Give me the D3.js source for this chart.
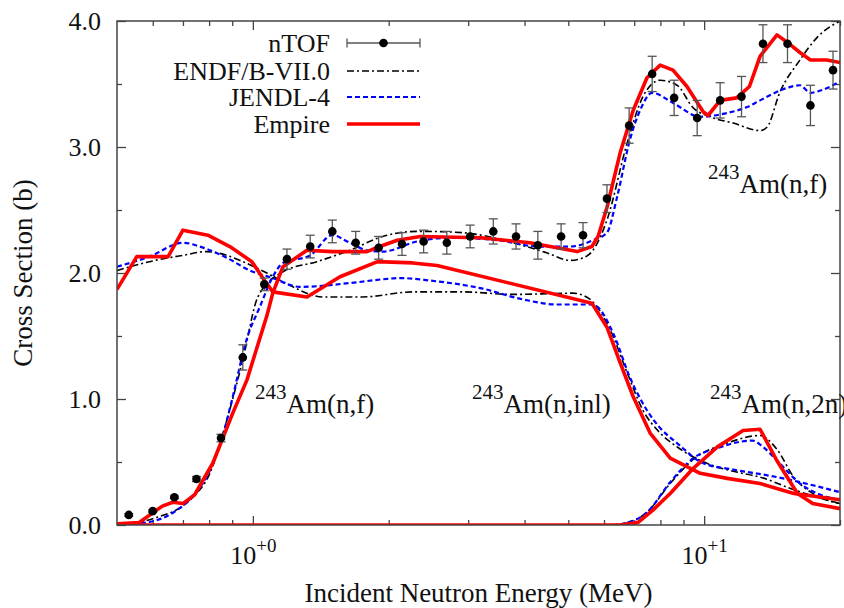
<!DOCTYPE html>
<html>
<head>
<meta charset="utf-8">
<script src="https://cdn.jsdelivr.net/npm/d3@7"></script>
<style>
  html, body { margin: 0; padding: 0; background: #fff; }
  svg { display: block; }
</style>
</head>
<body>
<div id="chartDiv"></div>
<script>
// nTOF measured points (MeV, barn, +/- barn)
const tofE   = [0.531, 0.60, 0.67, 0.75, 0.85, 0.95, 1.06, 1.19, 1.34, 1.50, 1.69, 1.90, 2.14, 2.39, 2.69, 3.03, 3.41, 3.83, 4.28, 4.82, 5.39, 6.09, 6.82, 7.67, 8.58, 9.65, 10.85, 12.1, 13.5, 15.3, 17.2, 19.3];
const tofXs  = [0.08, 0.11, 0.22, 0.365, 0.69, 1.33, 1.91, 2.11, 2.21, 2.33, 2.24, 2.20, 2.23, 2.25, 2.24, 2.29, 2.33, 2.29, 2.22, 2.29, 2.30, 2.59, 3.17, 3.58, 3.39, 3.23, 3.37, 3.40, 3.82, 3.82, 3.33, 3.61];
const tofErr = [0.01, 0.01, 0.01, 0.02, 0.03, 0.1, 0.05, 0.08, 0.09, 0.09, 0.09, 0.09, 0.09, 0.09, 0.09, 0.09, 0.10, 0.10, 0.11, 0.10, 0.10, 0.11, 0.14, 0.14, 0.14, 0.14, 0.14, 0.16, 0.15, 0.15, 0.16, 0.15];

// ENDF/B-VII.0
const endfFisE = [0.5, 0.6, 0.725, 0.803, 0.88, 0.95, 1.026, 1.166, 1.386, 1.64, 1.94, 2.31, 2.43, 2.92, 3.77, 4.48, 5.04, 5.39, 5.67, 6.09, 6.75, 7.32, 7.99, 8.71, 9.46, 10.3, 11.6, 13.3, 13.8, 14.7, 16.3, 17.8, 20];
const endfFis  = [0.0, 0.05, 0.2, 0.41, 0.86, 1.31, 1.81, 2.01, 2.09, 2.18, 2.29, 2.33, 2.33, 2.32, 2.24, 2.16, 2.10, 2.12, 2.18, 2.42, 3.03, 3.40, 3.53, 3.49, 3.31, 3.24, 3.19, 3.13, 3.16, 3.43, 3.69, 3.87, 4.0];
const endfInlE = [0.5, 0.59, 0.70, 0.79, 0.876, 0.95, 1.074, 1.21, 1.43, 1.75, 2.26, 2.92, 3.77, 5.12, 5.59, 5.67, 6.19, 6.75, 7.32, 7.99, 8.71, 10.3, 11.8, 13.3, 15.8, 20];
const endfInl  = [2.02, 2.09, 2.14, 2.17, 2.14, 2.09, 2.0, 1.90, 1.81, 1.81, 1.85, 1.85, 1.83, 1.84, 1.79, 1.77, 1.55, 1.21, 0.91, 0.73, 0.62, 0.48, 0.42, 0.38, 0.28, 0.17];
const endfN2nE = [0.5, 6.3, 6.6, 7.47, 8.41, 9.46, 11.25, 13.3, 14.5, 15.8, 17.4, 20];
const endfN2n  = [0, 0, 0.01, 0.10, 0.33, 0.52, 0.65, 0.71, 0.60, 0.38, 0.25, 0.17];

// JENDL-4
const jendlFisE = [0.5, 0.6, 0.68, 0.75, 0.8, 0.85, 0.9, 0.97, 1.036, 1.107, 1.166, 1.34, 1.50, 1.64, 1.79, 1.94, 2.31, 2.73, 3.48, 4.33, 5.04, 5.67, 6.09, 6.41, 6.85, 7.21, 7.67, 8.53, 9.80, 11.25, 12.5, 13.3, 15.3, 16.3, 17.2, 17.8, 20];
const jendlFis  = [0.0, 0.03, 0.12, 0.26, 0.42, 0.66, 1.0, 1.48, 1.73, 1.97, 2.08, 2.14, 2.30, 2.24, 2.18, 2.17, 2.25, 2.28, 2.26, 2.21, 2.21, 2.26, 2.32, 2.60, 3.06, 3.29, 3.43, 3.35, 3.24, 3.27, 3.32, 3.37, 3.47, 3.49, 3.43, 3.44, 3.52];
const jendlInlE = [0.5, 0.59, 0.70, 0.763, 0.876, 0.985, 1.107, 1.27, 1.64, 1.94, 2.12, 2.47, 3.19, 3.97, 4.72, 5.59, 5.8, 6.29, 6.85, 7.47, 7.99, 8.71, 9.95, 11.6, 14.5, 17.2, 20];
const jendlInl  = [2.05, 2.13, 2.24, 2.21, 2.12, 2.02, 1.96, 1.89, 1.92, 1.95, 1.96, 1.94, 1.88, 1.79, 1.75, 1.75, 1.73, 1.52, 1.17, 0.91, 0.77, 0.65, 0.49, 0.44, 0.38, 0.32, 0.26];
const jendlN2nE = [0.5, 6.3, 6.6, 7.47, 8.41, 9.46, 10.7, 12.0, 12.8, 13.5, 14.7, 16.3, 18.1, 20];
const jendlN2n  = [0, 0, 0.01, 0.10, 0.34, 0.53, 0.61, 0.66, 0.67, 0.62, 0.49, 0.33, 0.24, 0.20];

// Empire
const empFisE = [0.5, 0.56, 0.63, 0.665, 0.70, 0.743, 0.815, 0.903, 0.97, 1.074, 1.107, 1.166, 1.318, 1.5, 1.79, 1.91, 2.09, 2.35, 3.19, 4.11, 5.23, 5.64, 5.82, 6.09, 6.51, 6.96, 7.47, 7.99, 8.53, 9.16, 9.95, 10.2, 10.85, 11.8, 12.6, 13.3, 14.5, 15.3, 16.3, 17.2, 18.7, 20];
const empFis  = [0.01, 0.02, 0.15, 0.18, 0.17, 0.24, 0.49, 0.89, 1.15, 1.66, 1.84, 2.05, 2.18, 2.17, 2.17, 2.21, 2.26, 2.29, 2.28, 2.24, 2.17, 2.21, 2.29, 2.52, 2.95, 3.29, 3.55, 3.65, 3.61, 3.48, 3.28, 3.25, 3.37, 3.39, 3.48, 3.72, 3.89, 3.83, 3.75, 3.69, 3.69, 3.67];
const empInlE = [0.5, 0.553, 0.649, 0.70, 0.795, 0.889, 0.995, 1.052, 1.107, 1.318, 1.56, 1.89, 2.26, 2.56, 5.64, 6.09, 6.51, 6.96, 7.59, 8.41, 9.80, 11.25, 13.3, 15.8, 20];
const empInl  = [1.87, 2.13, 2.13, 2.34, 2.30, 2.21, 2.09, 1.96, 1.85, 1.81, 1.97, 2.09, 2.08, 2.06, 1.76, 1.57, 1.29, 1.02, 0.73, 0.53, 0.41, 0.37, 0.33, 0.25, 0.20];
const empN2nE = [0.5, 6.5, 7.14, 7.71, 8.41, 9.46, 10.7, 12.2, 13.3, 14.5, 16.1, 17.4, 20];
const empN2n  = [0, 0, 0.02, 0.12, 0.25, 0.45, 0.62, 0.75, 0.76, 0.51, 0.25, 0.17, 0.13];

const yMajor = [0, 1, 2, 3, 4];
const yMinor = [0.5, 1.5, 2.5, 3.5];
const xMajor = [1, 10];
const xMinor = [0.6, 0.7, 0.8, 0.9, 2, 3, 4, 5, 6, 7, 8, 9, 20];
const xMajorLabels = ['+0', '+1'];
const legendNames = ['nTOF', 'ENDF/B-VII.0', 'JENDL-4', 'Empire'];

const W = 844, H = 608;
const m = { top: 21, right: 4, bottom: 83, left: 117 };
const w = W - m.left - m.right, h = H - m.top - m.bottom;
const FONT = 26;
const SERIF = '"Liberation Serif", "Times New Roman", serif';

const styles = {
    endf:  { stroke: '#000000', width: 1.6, dash: '7,3,2,3', curve: d3.curveMonotoneX },
    jendl: { stroke: '#0000ff', width: 2.2, dash: '5,3', curve: d3.curveMonotoneX },
    emp:   { stroke: '#ff0000', width: 3.6, dash: null, curve: d3.curveLinear }
};

const zip = (xs, ys) => xs.map((e, i) => ({ e: e, v: ys[i] }));

const svg = d3.select('#chartDiv').append('svg').attr('width', W).attr('height', H);
svg.append('defs').append('clipPath').attr('id', 'plotClip')
    .append('rect').attr('width', w).attr('height', h);

const g = svg.append('g').attr('transform', `translate(${m.left},${m.top})`);

const x = d3.scaleLog().domain([0.5, 20]).range([0, w]);
const y = d3.scaleLinear().domain([0, 4]).range([h, 0]);

// ticks, inward on all four sides
const tickStroke = '#444';
function addAxis(axis, tx, ty) {
    const a = g.append('g').attr('transform', `translate(${tx},${ty})`).call(axis);
    a.select('.domain').remove();
    a.selectAll('line').attr('stroke', tickStroke).attr('stroke-width', 1.3);
    return a;
}
const xb = addAxis(d3.axisBottom(x).tickValues(xMajor).tickSize(-9).tickPadding(22).tickFormat(() => ''), 0, h);
addAxis(d3.axisBottom(x).tickValues(xMinor).tickSize(-5).tickFormat(''), 0, h);
addAxis(d3.axisTop(x).tickValues(xMajor).tickSize(-9).tickFormat(''), 0, 0);
addAxis(d3.axisTop(x).tickValues(xMinor).tickSize(-5).tickFormat(''), 0, 0);
const yl = addAxis(d3.axisLeft(y).tickValues(yMajor).tickSize(-9).tickPadding(16).tickFormat(d3.format('.1f')), 0, 0);
addAxis(d3.axisLeft(y).tickValues(yMinor).tickSize(-5).tickFormat(''), 0, 0);
addAxis(d3.axisRight(y).tickValues(yMajor).tickSize(-9).tickFormat(''), w, 0);
addAxis(d3.axisRight(y).tickValues(yMinor).tickSize(-5).tickFormat(''), w, 0);

yl.selectAll('text').attr('font-size', FONT).attr('fill', '#111')
    .attr('x', -16).attr('dy', '0.34em');

xb.selectAll('.tick text').each(function(d, i) {
    const t = d3.select(this).attr('fill', '#111').attr('y', 0).attr('dy', null);
    t.attr('transform', `translate(0,39)`);
    t.append('tspan').attr('font-size', FONT).text('10');
    t.append('tspan').attr('font-size', 19).attr('dy', -12).text(xMajorLabels[i]);
});

// curves
const plot = g.append('g').attr('clip-path', 'url(#plotClip)');
function drawCurve(data, s) {
    const line = d3.line().x(d => x(d.e)).y(d => y(d.v)).curve(s.curve);
    plot.append('path').datum(data)
        .attr('fill', 'none')
        .attr('stroke', s.stroke)
        .attr('stroke-width', s.width)
        .attr('stroke-dasharray', s.dash)
        .attr('stroke-linejoin', 'round')
        .attr('d', line);
}
drawCurve(zip(endfN2nE, endfN2n), styles.endf);
drawCurve(zip(jendlN2nE, jendlN2n), styles.jendl);
drawCurve(zip(endfInlE, endfInl), styles.endf);
drawCurve(zip(jendlInlE, jendlInl), styles.jendl);
drawCurve(zip(endfFisE, endfFis), styles.endf);
drawCurve(zip(jendlFisE, jendlFis), styles.jendl);
drawCurve(zip(empN2nE, empN2n), styles.emp);
drawCurve(zip(empInlE, empInl), styles.emp);
drawCurve(zip(empFisE, empFis), styles.emp);

// nTOF points with error bars
const tof = tofE.map((e, i) => ({ e: e, v: tofXs[i], err: tofErr[i] }));
const errColor = '#555';
const pts = plot.selectAll('.pt').data(tof).enter().append('g').attr('class', 'pt');
pts.append('line')
    .attr('x1', d => x(d.e)).attr('x2', d => x(d.e))
    .attr('y1', d => y(d.v - d.err)).attr('y2', d => y(d.v + d.err))
    .attr('stroke', errColor).attr('stroke-width', 1.3);
[-1, 1].forEach(sgn => {
    pts.append('line')
        .attr('x1', d => x(d.e) - 4.5).attr('x2', d => x(d.e) + 4.5)
        .attr('y1', d => y(d.v + sgn * d.err)).attr('y2', d => y(d.v + sgn * d.err))
        .attr('stroke', errColor).attr('stroke-width', 1.3);
});
pts.append('circle')
    .attr('cx', d => x(d.e)).attr('cy', d => y(d.v))
    .attr('r', 4.3).attr('fill', '#000');

// frame
g.append('rect').attr('width', w).attr('height', h)
    .attr('fill', 'none').attr('stroke', '#444').attr('stroke-width', 1.5);

// legend
const legRows = [43, 71, 97, 124].map(v => v - m.top);
const legTextX = 330 - m.left, legX1 = 347 - m.left, legX2 = 420 - m.left;
const leg = g.append('g');
legendNames.forEach((name, i) => {
    leg.append('text').attr('x', legTextX).attr('y', legRows[i] + 9)
        .attr('text-anchor', 'end').attr('font-size', FONT).attr('fill', '#111').text(name);
});
leg.append('line').attr('x1', legX1).attr('x2', legX2).attr('y1', legRows[0]).attr('y2', legRows[0])
    .attr('stroke', errColor).attr('stroke-width', 1.3);
[legX1, legX2].forEach(xx => leg.append('line').attr('x1', xx).attr('x2', xx)
    .attr('y1', legRows[0] - 4.5).attr('y2', legRows[0] + 4.5).attr('stroke', errColor).attr('stroke-width', 1.3));
leg.append('circle').attr('cx', (legX1 + legX2) / 2).attr('cy', legRows[0]).attr('r', 4.3).attr('fill', '#000');
[styles.endf, styles.jendl, styles.emp].forEach((s, i) => {
    leg.append('line').attr('x1', legX1).attr('x2', legX2)
        .attr('y1', legRows[i + 1]).attr('y2', legRows[i + 1])
        .attr('stroke', s.stroke).attr('stroke-width', s.width).attr('stroke-dasharray', s.dash);
});

// reaction labels
const reactions = [
    { sup: '243', main: 'Am(n,f)', x: 255, y: 413 },
    { sup: '243', main: 'Am(n,inl)', x: 472, y: 413 },
    { sup: '243', main: 'Am(n,2n)', x: 710, y: 413 },
    { sup: '243', main: 'Am(n,f)', x: 708, y: 193 }
];
reactions.forEach(r => {
    const t = svg.append('text').attr('x', r.x).attr('y', r.y - 14).attr('fill', '#111');
    t.append('tspan').attr('font-size', 21).text(r.sup);
    t.append('tspan').attr('font-size', FONT + 1).attr('dy', 14).text(r.main);
});

// axis titles
svg.append('text').attr('x', m.left + w / 2).attr('y', 602)
    .attr('text-anchor', 'middle').attr('font-size', FONT + 1).attr('fill', '#111')
    .text('Incident Neutron Energy (MeV)');
svg.append('text').attr('transform', `translate(32,${m.top + h / 2}) rotate(-90)`)
    .attr('text-anchor', 'middle').attr('font-size', FONT + 1).attr('fill', '#111')
    .text('Cross Section (b)');

// serif everywhere, inline so nothing else wins
svg.selectAll('text').style('font-family', SERIF);
</script>
</body>
</html>
